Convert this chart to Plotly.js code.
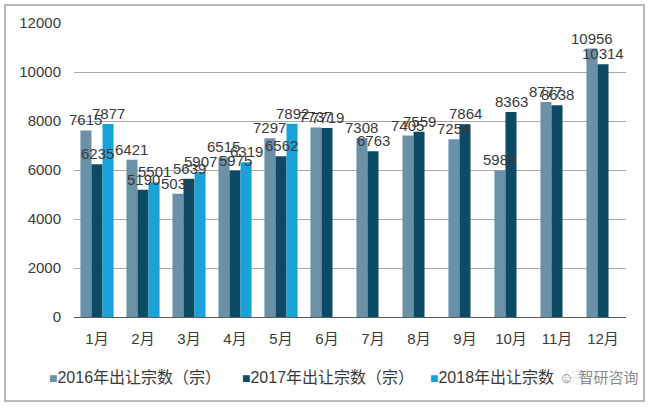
<!DOCTYPE html>
<html><head><meta charset="utf-8">
<script src="https://cdn.plot.ly/plotly-3.0.1.min.js"></script>
<style>html,body{margin:0;padding:0;background:#fff}#chart{width:650px;height:408px}</style>
</head><body><div id="chart"></div>
<script>
var months = ['1月','2月','3月','4月','5月','6月','7月','8月','9月','10月','11月','12月'];
var months2018 = ['1月','2月','3月','4月','5月'];
var values2016 = [7615, 6421, 5032, 6515, 7297, 7737, 7308, 7405, 7254, 5983, 8777, 10956];
var values2017 = [6235, 5190, 5639, 5975, 6562, 7719, 6763, 7559, 7864, 8363, 8638, 10314];
var values2018 = [7877, 5501, 5907, 6319, 7892];
var seriesNames = ['2016年出让宗数（宗）','2017年出让宗数（宗）','2018年出让宗数（宗）'];
var colors = ['#6b91a6', '#0c4a66', '#19a2d8'];
var yTicks = [0, 2000, 4000, 6000, 8000, 10000, 12000];

var FONT = 'Liberation Sans, Arial, Noto Sans CJK SC, sans-serif';
var W = 650, H = 408, L = 74, R = 24, T = 23, B = 91;
var plotW = W - L - R, plotH = H - T - B;
var BARGAP = 0.28;
var barW = plotW / months.length * (1 - BARGAP) / 3;

var xs = [months, months, months2018];
var ys = [values2016, values2017, values2018];
var data = [];
var annotations = [];
for (var s = 0; s < 3; s++) {
  data.push({type:'bar', x:xs[s], y:ys[s], name:seriesNames[s], marker:{color:colors[s]},
    hoverinfo:'none', showlegend:false});
  for (var k = 0; k < ys[s].length; k++) {
    annotations.push({xref:'x', yref:'y', x:xs[s][k], y:ys[s][k], text:String(ys[s][k]),
      xshift:(s - 1) * barW, yshift:0, showarrow:false, yanchor:'bottom', xanchor:'center',
      font:{family:FONT, size:15, color:'#3a3a3a'}});
  }
}
// legend drawn as annotations
var legendX = [47, 240, 428];
for (var s = 0; s < 3; s++) {
  annotations.push({xref:'paper', yref:'paper', x:(legendX[s] - L) / plotW, y:(H - B - 377) / plotH,
    xanchor:'left', yanchor:'middle', showarrow:false,
    text:'<span style="color:' + colors[s] + ';font-size:14px">■</span>' + seriesNames[s],
    font:{family:FONT, size:16, color:'#3a3a3a'}});
}
// watermark
annotations.push({xref:'paper', yref:'paper', x:(598 - L) / plotW, y:(H - B - 377) / plotH,
  text:'☺ 智研咨询', showarrow:false, font:{family:FONT, size:15, color:'#8a8a8a'},
  bgcolor:'rgba(255,255,255,0.9)', xanchor:'center', yanchor:'middle'});

var layout = {
  width:W, height:H,
  margin:{l:L, r:R, t:T, b:B},
  paper_bgcolor:'#fff', plot_bgcolor:'#fff',
  barmode:'group', bargap:BARGAP, bargroupgap:0,
  font:{family:FONT, size:15, color:'#3a3a3a'},
  showlegend:false,
  xaxis:{type:'category', categoryarray:months, categoryorder:'array', range:[-0.5, 11.5],
    autorange:false, showline:true, linecolor:'#5a5a5a', linewidth:1.2, ticks:'', ticklabelstandoff:8,
    tickfont:{family:FONT, size:15, color:'#3a3a3a'}},
  yaxis:{range:[0,12000], tickvals:yTicks, ticktext:yTicks.map(String), showgrid:true,
    gridcolor:'#a8a8a8', gridwidth:1, zeroline:false, showline:false, ticks:'',
    ticklabelstandoff:12, tickfont:{family:FONT, size:15, color:'#3a3a3a'}},
  shapes:[{type:'rect', xref:'paper', yref:'paper',
    x0:(5 - L) / plotW, x1:(644 - L) / plotW, y0:(H - B - 401) / plotH, y1:(H - B - 5) / plotH,
    line:{color:'#a0a0a0', width:1.5}, fillcolor:'rgba(0,0,0,0)', layer:'below'}],
  annotations:annotations
};
Plotly.newPlot('chart', data, layout, {displayModeBar:false, staticPlot:true});
</script></body></html>
